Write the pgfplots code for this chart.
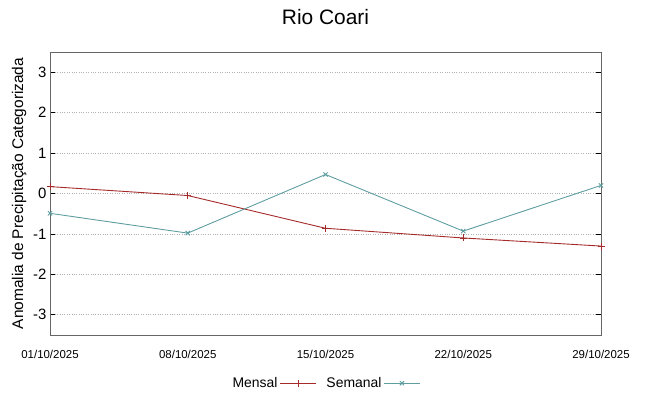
\documentclass[border=0pt]{standalone}
\usepackage{pgfplots}
\pgfplotsset{compat=1.18}
\usepackage{fontspec}
\setmainfont{Liberation Sans}
\definecolor{mred}{HTML}{A52A2A}
\definecolor{steal}{HTML}{5F9EA0}
\begin{document}
\begin{tikzpicture}
\useasboundingbox (-50bp,-61bp) rectangle (599bp,335bp);
\begin{axis}[
  at={(0,0)}, anchor=south west,
  scale only axis, width=551bp, height=283bp,
  xmin=0, xmax=28, ymin=-3.5, ymax=3.5,
  xtick={0,7,14,21,28},
  xticklabels={01/10/2025,08/10/2025,15/10/2025,22/10/2025,29/10/2025},
  ytick={-3,-2,-1,0,1,2,3},
  x tick label style={font=\fontsize{11.5}{13}\selectfont, yshift=-12bp},
  y tick label style={font=\fontsize{15}{17}\selectfont},
  /pgf/number format/assume math mode=true,
  ymajorgrids, grid style={dotted, gray!60, line width=0.7pt},
  axis line style={gray!80!black, line width=0.9pt},
  tick style={black, line width=0.7pt},
  major tick length=5bp,
  xtick style={draw=none},
  ylabel={Anomalia de Precipitação Categorizada},
  ylabel style={font=\fontsize{15.5}{17}\selectfont, yshift=0bp},
  title={Rio Coari},
  title style={font=\fontsize{21}{24}\selectfont, yshift=18bp},
  clip=true,
  legend columns=2,
  legend plot pos=right,
  legend style={at={(0.5,-0.135)}, anchor=north, draw=none, fill=none,
    font=\fontsize{14}{16}\selectfont,
    /tikz/every even column/.append style={column sep=8bp}},
  legend image code/.code={%
    \draw[#1, mark repeat=2, mark phase=2] plot coordinates {(0bp,0bp)(18bp,0bp)(36bp,0bp)};},
]
\addplot[color=mred, line width=0.9pt, mark=+, mark size=3.5bp, mark options={color=mred, line width=0.9pt}]
  coordinates {(-7,0.39) (0,0.17) (7,-0.05) (14,-0.86) (21,-1.10) (28,-1.30) (35,-1.50)};
\addlegendentry{Mensal}
\addplot[color=steal, line width=0.9pt, mark=x, mark size=3bp, mark options={color=steal, line width=0.9pt}]
  coordinates {(0,-0.49) (7,-0.98) (14,0.47) (21,-0.93) (28,0.20)};
\addlegendentry{Semanal}
\end{axis}
\end{tikzpicture}
\end{document}
